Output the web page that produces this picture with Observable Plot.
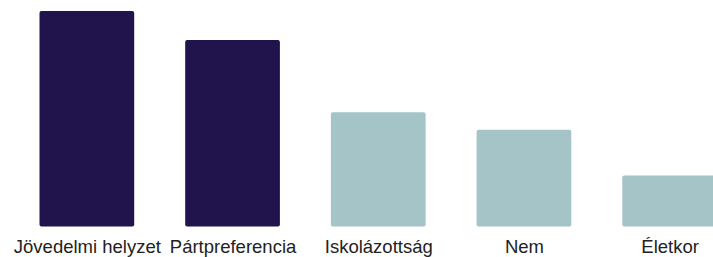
<!DOCTYPE html>
<html>
<head>
<meta charset="utf-8">
<script src="https://cdn.jsdelivr.net/npm/d3@7"></script>
<script src="https://cdn.jsdelivr.net/npm/@observablehq/plot@0.6"></script>
<style>
  html, body { margin: 0; padding: 0; background: #fff; overflow: hidden; }
  svg { overflow: hidden; }
</style>
</head>
<body>
<div id="chart"></div>
<script>
const categories = ["Jövedelmi helyzet", "Pártpreferencia", "Iskolázottság", "Nem", "Életkor"];
const values = [21.5, 18.6, 11.4, 9.65, 5.1];
const groups = ["dark", "dark", "light", "light", "light"];

const data = categories.map((c, i) => ({category: c, value: values[i], group: groups[i]}));

const chart = Plot.plot({
  width: 713,
  height: 257,
  marginTop: 6,
  marginBottom: 30.5,
  marginLeft: 0,
  marginRight: 0,
  style: {fontFamily: "'Liberation Sans', Arial, sans-serif", background: "#fff"},
  x: {domain: categories, range: [-11.5, 768], padding: 0.35, round: false},
  y: {domain: [0, 22], range: [226.5, 6], axis: null},
  color: {domain: ["dark", "light"], range: ["#21134b", "#a4c4c8"]},
  marks: [
    Plot.barY(data, {x: "category", y: "value", fill: "group", rx: 2}),
    Plot.axisX({tickSize: 0, tickPadding: 12.5, fontSize: 18.5, fill: "#222", label: null})
  ]
});
document.getElementById("chart").appendChild(chart);
</script>
</body>
</html>
